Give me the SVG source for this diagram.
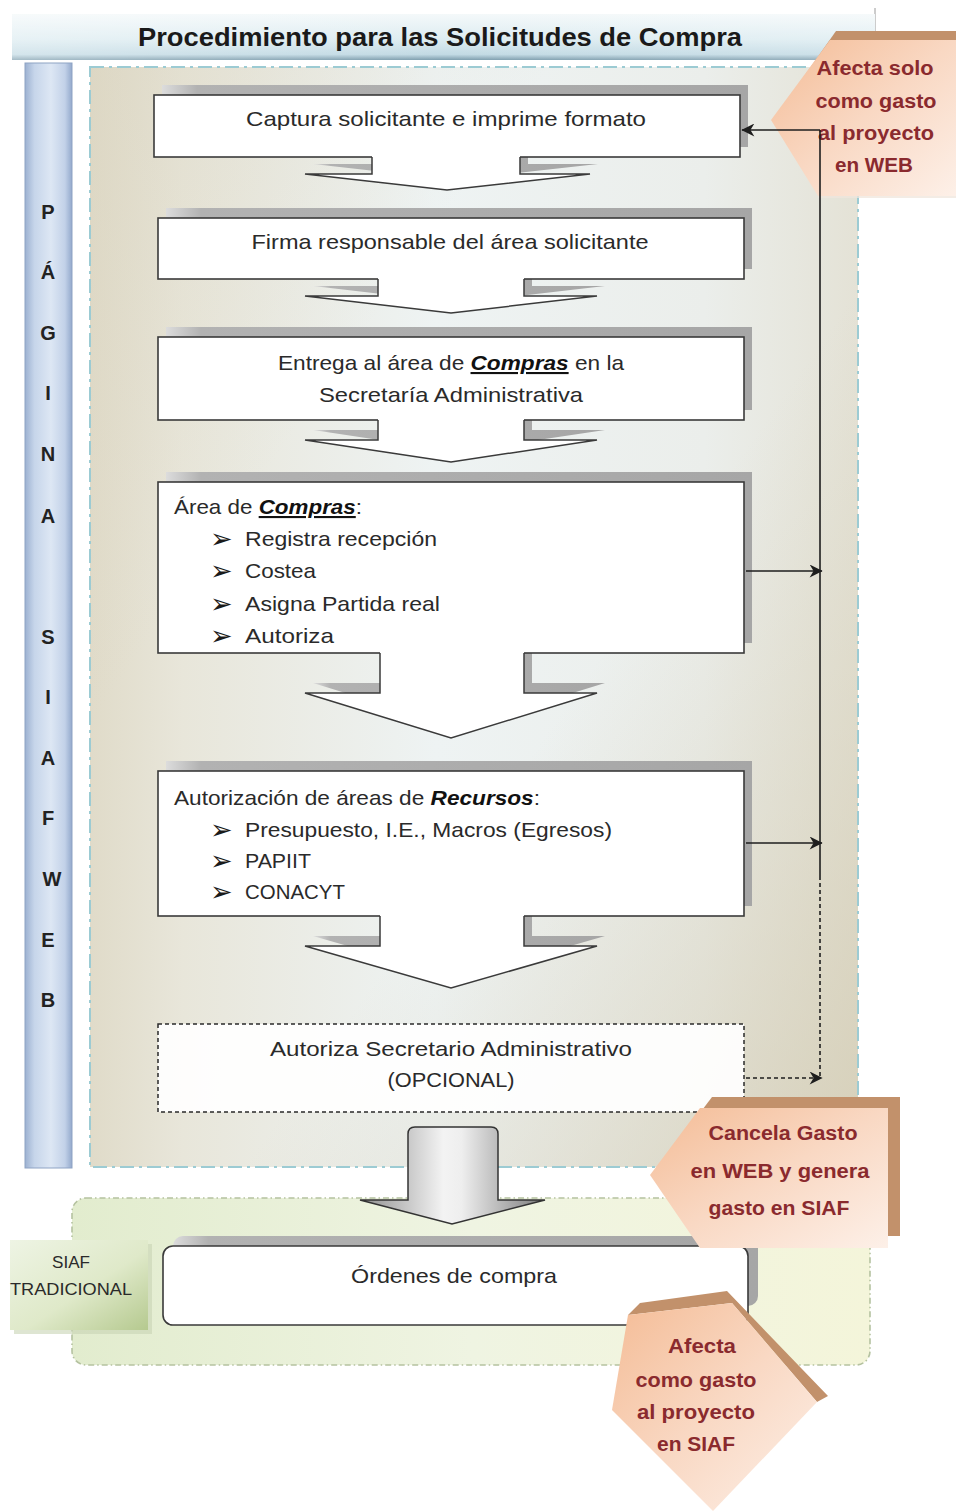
<svg xmlns="http://www.w3.org/2000/svg" width="956" height="1511" viewBox="0 0 956 1511">
<defs>
<style>
.t{font-family:"Liberation Sans",Arial,sans-serif;fill:#2a2a2a;font-size:21px}
.c{text-anchor:middle}
.bi{font-weight:bold;font-style:italic;fill:#111}
.u{text-decoration:underline}
.bl{font-family:"DejaVu Sans",sans-serif;font-size:27px;fill:#1a1a1a}
.lt{font-family:"Liberation Sans",Arial,sans-serif;font-weight:bold;font-size:20px;fill:#222;text-anchor:middle}
.co{font-family:"Liberation Sans",Arial,sans-serif;font-weight:bold;font-size:20px;fill:#8a2a2e;text-anchor:middle}
.box{fill:#fff;stroke:#3a3a3a;stroke-width:1.6}
.shd{fill:url(#gShadow)}
.aw{fill:#fff;stroke:none}
.ast{fill:none;stroke:#3a3a3a;stroke-width:1.5;stroke-linejoin:miter}
.ln{fill:none;stroke:#1e1e1e;stroke-width:1.6}
.dl{fill:none;stroke:#1e1e1e;stroke-width:1.6;stroke-dasharray:4 3}
.back{fill:#c2916b}
.front{fill:url(#gPeach)}
</style>
<linearGradient id="gTitle" x1="0" y1="0" x2="0" y2="1">
<stop offset="0" stop-color="#f4f9fa"/><stop offset="0.55" stop-color="#ddecf1"/><stop offset="0.88" stop-color="#c2dae4"/><stop offset="1" stop-color="#7e9eae"/>
</linearGradient>
<linearGradient id="gTitleH" x1="0" y1="0" x2="1" y2="0">
<stop offset="0" stop-color="#fff" stop-opacity="0.3"/><stop offset="0.5" stop-color="#fff" stop-opacity="0"/><stop offset="1" stop-color="#fff" stop-opacity="0.2"/>
</linearGradient>
<linearGradient id="gBar" x1="0" y1="0" x2="1" y2="0">
<stop offset="0" stop-color="#9cb1d1"/><stop offset="0.2" stop-color="#c6d5ea"/><stop offset="0.55" stop-color="#dde7f4"/><stop offset="0.85" stop-color="#c2d1e8"/><stop offset="1" stop-color="#93a9cc"/>
</linearGradient>
<linearGradient id="gMain" x1="0" y1="0" x2="1" y2="0">
<stop offset="0" stop-color="#e0dbc9"/><stop offset="0.12" stop-color="#e8e6da"/><stop offset="0.45" stop-color="#eef3f3"/><stop offset="0.8" stop-color="#ebeeeb"/><stop offset="1" stop-color="#e4e2d6"/>
</linearGradient>
<linearGradient id="gMainD" x1="0" y1="0" x2="1" y2="1">
<stop offset="0" stop-color="#d7d0ba" stop-opacity="0.35"/><stop offset="0.3" stop-color="#d7d0ba" stop-opacity="0"/><stop offset="0.6" stop-color="#d7d0ba" stop-opacity="0"/><stop offset="1" stop-color="#d4cdb5" stop-opacity="0.85"/>
</linearGradient>
<linearGradient id="gGreen" x1="0" y1="0" x2="1" y2="0">
<stop offset="0" stop-color="#e2ecce"/><stop offset="0.5" stop-color="#eff4e2"/><stop offset="1" stop-color="#f4f5da"/>
</linearGradient>
<linearGradient id="gSiaf" x1="0" y1="0" x2="1" y2="1">
<stop offset="0" stop-color="#eef4e4"/><stop offset="0.55" stop-color="#dfe9c9"/><stop offset="1" stop-color="#b5c98f"/>
</linearGradient>
<linearGradient id="gShadow" x1="0" y1="0" x2="1" y2="0">
<stop offset="0" stop-color="#dcdcdc"/><stop offset="0.06" stop-color="#b2b2b2"/><stop offset="1" stop-color="#a6a6a6"/>
</linearGradient>
<linearGradient id="gPeach" x1="0" y1="0" x2="1" y2="1">
<stop offset="0" stop-color="#f4bc96"/><stop offset="0.5" stop-color="#f9d8c3"/><stop offset="1" stop-color="#fdf0e8"/>
</linearGradient>
<linearGradient id="gBig" x1="0" y1="0" x2="1" y2="0">
<stop offset="0" stop-color="#8e8e8e"/><stop offset="0.45" stop-color="#f3f3f3"/><stop offset="0.55" stop-color="#eeeeee"/><stop offset="1" stop-color="#7a7a7a"/>
</linearGradient>
<marker id="ah" viewBox="0 0 10 10" refX="9.5" refY="5" markerWidth="15" markerHeight="13" markerUnits="userSpaceOnUse" orient="auto">
<path d="M0,0 L10,5 L0,10 L3,5 Z" fill="#1e1e1e"/>
</marker>
</defs>

<rect width="956" height="1511" fill="#fff"/>

<g id="title">
<line x1="875" y1="8" x2="875" y2="60" stroke="#9a9a9a" stroke-width="1"/>
<rect x="12" y="14" width="863" height="46" fill="url(#gTitle)"/>
<rect x="12" y="14" width="863" height="46" fill="url(#gTitleH)"/>
<text class="t" x="440" y="46" style="font-weight:bold;font-size:26px;fill:#1a1a1a;text-anchor:middle" textLength="604" lengthAdjust="spacingAndGlyphs">Procedimiento para las Solicitudes de Compra</text>
</g>

<g id="web-region">
<rect x="90" y="67" width="768" height="1100" fill="url(#gMain)"/>
<rect x="90" y="67" width="768" height="1100" fill="url(#gMainD)"/>
<rect x="90" y="67" width="768" height="1100" fill="none" stroke="#9ccbd3" stroke-width="2" stroke-dasharray="14 5 3 5"/>
</g>

<g id="side-bar">
<rect x="25" y="63" width="47" height="1105" fill="url(#gBar)" stroke="#8ea3c4" stroke-width="1"/>
<text class="lt" x="48" y="219">P</text>
<text class="lt" x="48" y="279">Á</text>
<text class="lt" x="48" y="340">G</text>
<text class="lt" x="48" y="400">I</text>
<text class="lt" x="48" y="461">N</text>
<text class="lt" x="48" y="523">A</text>
<text class="lt" x="48" y="644">S</text>
<text class="lt" x="48" y="704">I</text>
<text class="lt" x="48" y="765">A</text>
<text class="lt" x="48" y="825">F</text>
<text class="lt" x="52" y="886">W</text>
<text class="lt" x="48" y="947">E</text>
<text class="lt" x="48" y="1007">B</text>
</g>

<g id="siaf-region">
<rect x="72" y="1198" width="798" height="167" rx="14" fill="url(#gGreen)" stroke="#b5c2a0" stroke-width="1.6" stroke-dasharray="6 3 1.5 3"/>
</g>

<g id="c-web">
<polygon class="back" points="836,31 956,31 956,188 826,188 779,112"/>
<polygon class="front" points="830,40 956,40 956,196 818,196 771,120"/>
<line x1="818" y1="197" x2="956" y2="197" stroke="#efe6dc" stroke-width="1.5"/>
<text class="co" x="875" y="75" textLength="117" lengthAdjust="spacingAndGlyphs">Afecta solo</text>
<text class="co" x="876" y="108" textLength="121" lengthAdjust="spacingAndGlyphs">como gasto</text>
<text class="co" x="876" y="140" textLength="116" lengthAdjust="spacingAndGlyphs">al proyecto</text>
<text class="co" x="874" y="172" textLength="78" lengthAdjust="spacingAndGlyphs">en WEB</text>
</g>

<g id="arrow-shadows">
<path class="shd" transform="translate(8,-10)" d="M372,155 L372,174 L305,174 L447,190 L590,174 L520,174 L520,155 Z"/>
<path class="shd" transform="translate(8,-10)" d="M378,277 L378,296 L305,296 L451,313 L597,296 L524,296 L524,277 Z"/>
<path class="shd" transform="translate(8,-10)" d="M378,418 L378,440 L305,440 L451,462 L597,440 L524,440 L524,418 Z"/>
<path class="shd" transform="translate(8,-10)" d="M380,651 L380,693 L305,693 L451,738 L597,693 L524,693 L524,651 Z"/>
<path class="shd" transform="translate(8,-10)" d="M380,914 L380,946 L305,946 L451,988 L597,946 L524,946 L524,914 Z"/>
</g>

<g id="n-captura">
<rect class="shd" x="162" y="85" width="586" height="62"/>
<rect class="box" x="154" y="95" width="586" height="62"/>
<text class="t c" x="446" y="126" textLength="400" lengthAdjust="spacingAndGlyphs">Captura solicitante e imprime formato</text>
</g>

<g id="n-firma">
<rect class="shd" x="166" y="208" width="586" height="61"/>
<rect class="box" x="158" y="218" width="586" height="61"/>
<text class="t c" x="450" y="249" textLength="397" lengthAdjust="spacingAndGlyphs">Firma responsable del área solicitante</text>
</g>

<g id="n-entrega">
<rect class="shd" x="166" y="327" width="586" height="83"/>
<rect class="box" x="158" y="337" width="586" height="83"/>
<text class="t" x="278" y="370" textLength="346" lengthAdjust="spacingAndGlyphs">Entrega al área de <tspan class="bi u">Compras</tspan> en la</text>
<text class="t c" x="451" y="402" textLength="264" lengthAdjust="spacingAndGlyphs">Secretaría Administrativa</text>
</g>

<g id="n-compras">
<rect class="shd" x="166" y="472" width="586" height="171"/>
<rect class="box" x="158" y="482" width="586" height="171"/>
<text class="t" x="174" y="514" textLength="188" lengthAdjust="spacingAndGlyphs">Área de <tspan class="bi u">Compras</tspan>:</text>
<text class="bl" x="210" y="548">➢</text>
<text class="t" x="245" y="546" textLength="192" lengthAdjust="spacingAndGlyphs">Registra recepción</text>
<text class="bl" x="210" y="580">➢</text>
<text class="t" x="245" y="578" textLength="71" lengthAdjust="spacingAndGlyphs">Costea</text>
<text class="bl" x="210" y="613">➢</text>
<text class="t" x="245" y="611" textLength="195" lengthAdjust="spacingAndGlyphs">Asigna Partida real</text>
<text class="bl" x="210" y="645">➢</text>
<text class="t" x="245" y="643" textLength="89" lengthAdjust="spacingAndGlyphs">Autoriza</text>
</g>

<g id="n-recursos">
<rect class="shd" x="166" y="761" width="586" height="145"/>
<rect class="box" x="158" y="771" width="586" height="145"/>
<text class="t" x="174" y="805" textLength="366" lengthAdjust="spacingAndGlyphs">Autorización de áreas de <tspan class="bi">Recursos</tspan>:</text>
<text class="bl" x="210" y="839">➢</text>
<text class="t" x="245" y="837" textLength="367" lengthAdjust="spacingAndGlyphs">Presupuesto, I.E., Macros (Egresos)</text>
<text class="bl" x="210" y="870">➢</text>
<text class="t" x="245" y="868" textLength="66" lengthAdjust="spacingAndGlyphs">PAPIIT</text>
<text class="bl" x="210" y="901">➢</text>
<text class="t" x="245" y="899" textLength="100" lengthAdjust="spacingAndGlyphs">CONACYT</text>
</g>

<g id="n-secretario">
<rect x="158" y="1024" width="586" height="88" fill="#fff" fill-opacity="0.92" stroke="#2a2a2a" stroke-width="1.5" stroke-dasharray="4 3"/>
<text class="t c" x="451" y="1056" textLength="362" lengthAdjust="spacingAndGlyphs">Autoriza Secretario Administrativo</text>
<text class="t c" x="451" y="1087" textLength="127" lengthAdjust="spacingAndGlyphs">(OPCIONAL)</text>
</g>

<g id="n-ordenes">
<rect class="shd" x="173" y="1236" width="585" height="70" rx="10"/>
<rect class="box" x="163" y="1246" width="585" height="79" rx="10"/>
<text class="t c" x="454" y="1283" textLength="206" lengthAdjust="spacingAndGlyphs">Órdenes de compra</text>
</g>

<g id="n-siaf">
<rect x="14" y="1244" width="138" height="90" fill="#c8d4b4" opacity="0.6"/>
<rect x="10" y="1240" width="138" height="90" fill="url(#gSiaf)"/>
<text class="t c" x="71" y="1268" style="font-size:17px" textLength="38" lengthAdjust="spacingAndGlyphs">SIAF</text>
<text class="t c" x="71" y="1295" style="font-size:17px" textLength="122" lengthAdjust="spacingAndGlyphs">TRADICIONAL</text>
</g>

<g id="connectors">
<path class="aw" d="M372,155 L372,174 L305,174 L447,190 L590,174 L520,174 L520,155 Z"/>
<path class="ast" d="M372,157 L372,174 L305,174 L447,190 L590,174 L520,174 L520,157"/>
<path class="aw" d="M378,277 L378,296 L305,296 L451,313 L597,296 L524,296 L524,277 Z"/>
<path class="ast" d="M378,279 L378,296 L305,296 L451,313 L597,296 L524,296 L524,279"/>
<path class="aw" d="M378,418 L378,440 L305,440 L451,462 L597,440 L524,440 L524,418 Z"/>
<path class="ast" d="M378,420 L378,440 L305,440 L451,462 L597,440 L524,440 L524,420"/>
<path class="aw" d="M380,651 L380,693 L305,693 L451,738 L597,693 L524,693 L524,651 Z"/>
<path class="ast" d="M380,653 L380,693 L305,693 L451,738 L597,693 L524,693 L524,653"/>
<path class="aw" d="M380,914 L380,946 L305,946 L451,988 L597,946 L524,946 L524,914 Z"/>
<path class="ast" d="M380,916 L380,946 L305,946 L451,988 L597,946 L524,946 L524,916"/>
<path d="M408,1134 Q408,1127 415,1127 L491,1127 Q498,1127 498,1134 L498,1200 L545,1200 L452,1224 L360,1200 L408,1200 Z" fill="url(#gBig)" stroke="#333" stroke-width="1.5"/>
<line class="ln" x1="820" y1="130" x2="820" y2="876"/>
<line class="ln" x1="820" y1="130" x2="742" y2="130" marker-end="url(#ah)"/>
<line class="ln" x1="746" y1="571" x2="822" y2="571" marker-end="url(#ah)"/>
<line class="ln" x1="746" y1="843" x2="822" y2="843" marker-end="url(#ah)"/>
<line class="dl" x1="820" y1="876" x2="820" y2="1078"/>
<line class="dl" x1="746" y1="1078" x2="822" y2="1078" marker-end="url(#ah)"/>
</g>

<g id="c-cancela">
<polygon class="back" points="712,1097 900,1097 900,1236 712,1236 662,1163"/>
<polygon class="front" points="700,1108 888,1108 888,1248 700,1248 650,1175"/>
<text class="co" x="783" y="1140" textLength="149" lengthAdjust="spacingAndGlyphs">Cancela Gasto</text>
<text class="co" x="780" y="1178" textLength="179" lengthAdjust="spacingAndGlyphs">en WEB y genera</text>
<text class="co" x="779" y="1215" textLength="141" lengthAdjust="spacingAndGlyphs">gasto en SIAF</text>
</g>

<g id="c-siaf">
<polygon class="back" points="628,1315 640,1303 727,1291 828,1396 817,1402 732,1303"/>
<polygon class="front" points="628,1315 732,1303 817,1402 713,1511 612,1410"/>
<text class="co" x="702" y="1353" textLength="68" lengthAdjust="spacingAndGlyphs">Afecta</text>
<text class="co" x="696" y="1387" textLength="121" lengthAdjust="spacingAndGlyphs">como gasto</text>
<text class="co" x="696" y="1419" textLength="118" lengthAdjust="spacingAndGlyphs">al proyecto</text>
<text class="co" x="696" y="1451" textLength="78" lengthAdjust="spacingAndGlyphs">en SIAF</text>
</g>
</svg>
